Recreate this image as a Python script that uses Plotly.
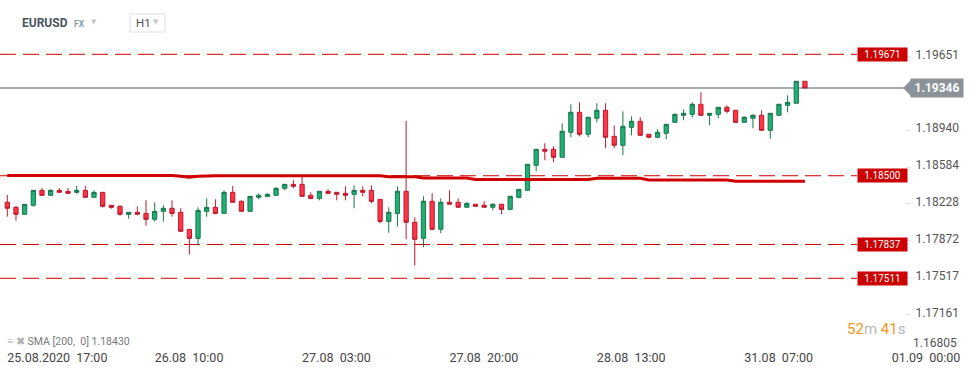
import plotly.graph_objects as go

# ---------------- data ----------------
symbol = "EURUSD"
market = "FX"
timeframe = "H1"

open_ = [1.18244, 1.18195, 1.18128, 1.18215, 1.18359, 1.18311, 1.18359, 1.18350, 1.18340, 1.18359,
         1.18292, 1.18340, 1.18215, 1.18205, 1.18128, 1.18147, 1.18137, 1.18080, 1.18157, 1.18186,
         1.18147, 1.17983, 1.17896, 1.18157, 1.18195, 1.18137, 1.18340, 1.18253, 1.18157, 1.18292,
         1.18301, 1.18311, 1.18379, 1.18417, 1.18417, 1.18311, 1.18282, 1.18350, 1.18340, 1.18330,
         1.18321, 1.18359, 1.18359, 1.18272, 1.18060, 1.18137, 1.18350, 1.18051, 1.17897, 1.18254,
         1.17984, 1.18244, 1.18244, 1.18196, 1.18225, 1.18215, 1.18196, 1.18225, 1.18176, 1.18292,
         1.18360, 1.18601, 1.18755, 1.18755, 1.18678, 1.18919, 1.19112, 1.18900, 1.19054, 1.19131,
         1.18880, 1.18794, 1.18967, 1.19025, 1.18900, 1.18871, 1.18909, 1.19015, 1.19083, 1.19092,
         1.19189, 1.19083, 1.19092, 1.19160, 1.19131, 1.19015, 1.19054, 1.19083, 1.18938, 1.19083,
         1.19179, 1.19199, 1.19411]
high = [1.18314, 1.18208, 1.18227, 1.18359, 1.18382, 1.18369, 1.18382, 1.18382, 1.18401, 1.18401,
        1.18359, 1.18340, 1.18215, 1.18215, 1.18147, 1.18205, 1.18263, 1.18244, 1.18215, 1.18263,
        1.18186, 1.17983, 1.18195, 1.18282, 1.18272, 1.18359, 1.18401, 1.18263, 1.18301, 1.18330,
        1.18330, 1.18388, 1.18417, 1.18456, 1.18501, 1.18340, 1.18350, 1.18369, 1.18340, 1.18398,
        1.18407, 1.18398, 1.18407, 1.18272, 1.18195, 1.18398, 1.19028, 1.18099, 1.18302, 1.18331,
        1.18282, 1.18360, 1.18282, 1.18244, 1.18228, 1.18254, 1.18234, 1.18225, 1.18302, 1.18369,
        1.18610, 1.18755, 1.18813, 1.18784, 1.19006, 1.19189, 1.19208, 1.19064, 1.19199, 1.19199,
        1.18986, 1.19121, 1.19073, 1.19064, 1.18900, 1.18948, 1.18996, 1.19102, 1.19141, 1.19208,
        1.19305, 1.19102, 1.19160, 1.19179, 1.19131, 1.19073, 1.19092, 1.19131, 1.19102, 1.19189,
        1.19276, 1.19411, 1.19411]
low = [1.18105, 1.18067, 1.18125, 1.18202, 1.18311, 1.18311, 1.18340, 1.18330, 1.18327, 1.18292,
       1.18292, 1.18192, 1.18182, 1.18115, 1.18086, 1.18118, 1.18019, 1.18057, 1.18057, 1.18105,
       1.17964, 1.17739, 1.17826, 1.18105, 1.18128, 1.18137, 1.18244, 1.18157, 1.18157, 1.18272,
       1.18292, 1.18311, 1.18359, 1.18379, 1.18301, 1.18272, 1.18263, 1.18330, 1.18263, 1.18263,
       1.18186, 1.18301, 1.18234, 1.18041, 1.17951, 1.18009, 1.17887, 1.17636, 1.17810, 1.17974,
       1.17945, 1.18225, 1.18196, 1.18196, 1.18202, 1.18196, 1.18167, 1.18128, 1.18167, 1.18282,
       1.18355, 1.18543, 1.18649, 1.18630, 1.18678, 1.18871, 1.18880, 1.18871, 1.19015, 1.18765,
       1.18765, 1.18697, 1.18890, 1.18890, 1.18861, 1.18861, 1.18851, 1.19015, 1.19035, 1.19064,
       1.19083, 1.18986, 1.19054, 1.19102, 1.19015, 1.19015, 1.18957, 1.18938, 1.18857, 1.19083,
       1.19112, 1.19199, 1.19346]
close = [1.18186, 1.18128, 1.18224, 1.18359, 1.18311, 1.18359, 1.18340, 1.18330, 1.18359, 1.18292,
         1.18340, 1.18205, 1.18195, 1.18128, 1.18147, 1.18128, 1.18080, 1.18157, 1.18186, 1.18137,
         1.17964, 1.17896, 1.18166, 1.18195, 1.18137, 1.18340, 1.18244, 1.18157, 1.18301, 1.18311,
         1.18321, 1.18379, 1.18417, 1.18398, 1.18301, 1.18282, 1.18350, 1.18330, 1.18321, 1.18311,
         1.18359, 1.18340, 1.18253, 1.18060, 1.18147, 1.18350, 1.18051, 1.17887, 1.18254, 1.17984,
         1.18244, 1.18225, 1.18196, 1.18234, 1.18205, 1.18196, 1.18225, 1.18176, 1.18302, 1.18369,
         1.18610, 1.18755, 1.18736, 1.18678, 1.18929, 1.19112, 1.18900, 1.19064, 1.19131, 1.18871,
         1.18794, 1.18977, 1.19025, 1.18890, 1.18871, 1.18919, 1.18996, 1.19092, 1.19102, 1.19189,
         1.19083, 1.19102, 1.19160, 1.19121, 1.19015, 1.19064, 1.19083, 1.18938, 1.19102, 1.19189,
         1.19208, 1.19411, 1.19346]
sma200 = [1.18502, 1.18502, 1.18502, 1.18502, 1.18502, 1.18502, 1.18502, 1.18502, 1.18502, 1.18502,
          1.18502, 1.18502, 1.18502, 1.18502, 1.18502, 1.18502, 1.18502, 1.18502, 1.18502, 1.18502,
          1.18494, 1.18486, 1.18494, 1.18500, 1.18500, 1.18500, 1.18500, 1.18500, 1.18500, 1.18500,
          1.18500, 1.18500, 1.18500, 1.18500, 1.18500, 1.18500, 1.18500, 1.18500, 1.18500, 1.18500,
          1.18500, 1.18500, 1.18500, 1.18500, 1.18490, 1.18490, 1.18490, 1.18490, 1.18478, 1.18478,
          1.18478, 1.18478, 1.18478, 1.18478, 1.18464, 1.18464, 1.18464, 1.18464, 1.18464, 1.18464,
          1.18464, 1.18464, 1.18464, 1.18464, 1.18464, 1.18464, 1.18464, 1.18464, 1.18475, 1.18475,
          1.18475, 1.18475, 1.18475, 1.18475, 1.18459, 1.18459, 1.18459, 1.18459, 1.18459, 1.18459,
          1.18459, 1.18459, 1.18459, 1.18459, 1.18446, 1.18446, 1.18446, 1.18446, 1.18446, 1.18446,
          1.18446, 1.18446, 1.18446]

x_tick_pos = [0, 17, 34, 51, 68, 85, 102]
x_tick_labels = ["25.08.2020  17:00", "26.08  10:00", "27.08  03:00", "27.08  20:00",
                 "28.08  13:00", "31.08  07:00", "01.09  00:00"]
y_tick_vals = [1.19651, 1.18940, 1.18584, 1.18228, 1.17872, 1.17517, 1.17161]
y_tick_bottom = 1.16805
levels = [1.19671, 1.18500, 1.17837, 1.17511]
last_price = 1.19346
sma_period = "[200,  0]"
sma_last = 1.18430
countdown_min = "52"
countdown_sec = "41"

# ---------------- layout geometry ----------------
W, H = 974, 375
PL, PR, PT, PB = 0, 905, 40, 346
X_RANGE = [-0.842, 103.54]
Y_RANGE = [1.16858, 1.19809]
FONT = "Roboto"

def px(x):
    return (x - PL) / (PR - PL)

def py(y):
    return (PB - y) / (PB - PT)

x = list(range(len(open_)))

fig = go.Figure()
fig.add_trace(go.Candlestick(
    x=x, open=open_, high=high, low=low, close=close,
    increasing=dict(fillcolor="#24ae77", line=dict(color="#16774b", width=1)),
    decreasing=dict(fillcolor="#ff3548", line=dict(color="#bb1a2c", width=1)),
    whiskerwidth=0, hoverinfo="skip", showlegend=False,
))
fig.add_trace(go.Scatter(
    x=x, y=sma200, mode="lines", line=dict(color="#d00000", width=3),
    hoverinfo="skip", showlegend=False,
))

shapes = []
annotations = []

# level lines + red labels
for lv in levels:
    shapes.append(dict(type="line", xref="paper", yref="y", x0=0, x1=px(857), y0=lv, y1=lv,
                       line=dict(color="#cc0000", width=1, dash="16px,7px"), layer="below"))
    annotations.append(dict(xref="paper", yref="y", x=px(857), y=lv, xanchor="left", yanchor="middle",
                            text=f"{lv:.5f}", showarrow=False, bgcolor="#cc0000", borderpad=1,
                            width=47, font=dict(family=FONT, size=10, color="white")))

# last price line + grey tag
shapes.append(dict(type="line", xref="paper", yref="y", x0=0, x1=1, y0=last_price, y1=last_price,
                   line=dict(color="#8b9399", width=1.5), layer="below"))
shapes.append(dict(type="path", xref="paper", yref="y", xsizemode="pixel", ysizemode="pixel",
                   xanchor=1, yanchor=last_price, path="M -2,0 L 6,8 L 6,-8 Z",
                   fillcolor="#8b9399", line=dict(width=0)))
annotations.append(dict(xref="paper", yref="y", x=px(910), y=last_price, xanchor="left", yanchor="middle",
                        text=f"<b>{last_price:.5f}</b>", showarrow=False, bgcolor="#8b9399",
                        borderpad=2, width=48, font=dict(family=FONT, size=12, color="white")))

# bottom price label (pushed up to fit, as in the platform)
annotations.append(dict(xref="paper", yref="paper", x=1, y=0, xanchor="left", yanchor="middle",
                        xshift=7, yshift=3, text=f"{y_tick_bottom:.5f}", showarrow=False, borderpad=0,
                        font=dict(family=FONT, size=12, color="#555")))

# countdown
annotations.append(dict(xref="paper", yref="paper", x=px(907), y=py(329), xanchor="right", yanchor="middle",
                        text=(f'<span style="color:#f7941d">{countdown_min}</span>'
                              f'<span style="color:#b8b8b8">m</span> '
                              f'<span style="color:#f7941d">{countdown_sec}</span>'
                              f'<span style="color:#b8b8b8">s</span>'),
                        showarrow=False, font=dict(family=FONT, size=15)))

# SMA legend
annotations.append(dict(xref="paper", yref="paper", x=px(5), y=py(341), xanchor="left", yanchor="middle",
                        text='<span style="color:#b0b0b0;font-size:11px">≡ ✖</span> '
                             f'<span style="color:#7a7a7a">SMA {sma_period} {sma_last:.5f}</span>',
                        showarrow=False, font=dict(family=FONT, size=10.5)))

# header
annotations.append(dict(xref="paper", yref="paper", x=px(20), y=py(23), xanchor="left", yanchor="middle",
                        text=f"<b>{symbol}</b>", showarrow=False,
                        font=dict(family=FONT, size=12, color="#4a5561")))
annotations.append(dict(xref="paper", yref="paper", x=px(72), y=py(24), xanchor="left", yanchor="middle",
                        text=f"<b>{market}</b>", showarrow=False,
                        font=dict(family=FONT, size=8.5, color="#8c9baa")))
annotations.append(dict(xref="paper", yref="paper", x=px(89), y=py(22), xanchor="left", yanchor="middle",
                        text="▼", showarrow=False, font=dict(family="DejaVu Sans", size=7, color="#c9c9c9")))
shapes.append(dict(type="rect", xref="paper", yref="paper", x0=px(130), x1=px(165), y0=py(32), y1=py(14),
                   line=dict(color="#dedede", width=1), fillcolor="white"))
annotations.append(dict(xref="paper", yref="paper", x=px(134), y=py(23), xanchor="left", yanchor="middle",
                        text=timeframe, showarrow=False, font=dict(family=FONT, size=11.5, color="#555")))
annotations.append(dict(xref="paper", yref="paper", x=px(151), y=py(22), xanchor="left", yanchor="middle",
                        text="▼", showarrow=False, font=dict(family="DejaVu Sans", size=7, color="#c9c9c9")))

fig.update_layout(
    width=W, height=H,
    margin=dict(l=PL, r=W - PR, t=PT, b=H - PB, autoexpand=False),
    paper_bgcolor="white", plot_bgcolor="white",
    showlegend=False, hovermode=False,
    font=dict(family=FONT, color="#555"),
    shapes=shapes, annotations=annotations,
    xaxis=dict(range=X_RANGE, rangeslider=dict(visible=False), showgrid=False, zeroline=False,
               showline=False, tickmode="array", tickvals=x_tick_pos, ticktext=x_tick_labels,
               ticklabelposition="outside right", ticks="", ticklabelstandoff=2,
               tickfont=dict(family=FONT, size=12.5, color="#444")),
    yaxis=dict(range=Y_RANGE, side="right", showgrid=False, zeroline=False, showline=False,
               tickmode="array", tickvals=y_tick_vals, ticktext=[f"{v:.5f}" for v in y_tick_vals],
               ticks="outside", ticklen=5, tickcolor="#e2e2e2", ticklabelstandoff=2, ticklabelshift=-2,
               tickfont=dict(family=FONT, size=12, color="#555")),
)

fig.write_html("out.html", config={"displayModeBar": False},
               post_script="document.body.style.margin='0px';")
